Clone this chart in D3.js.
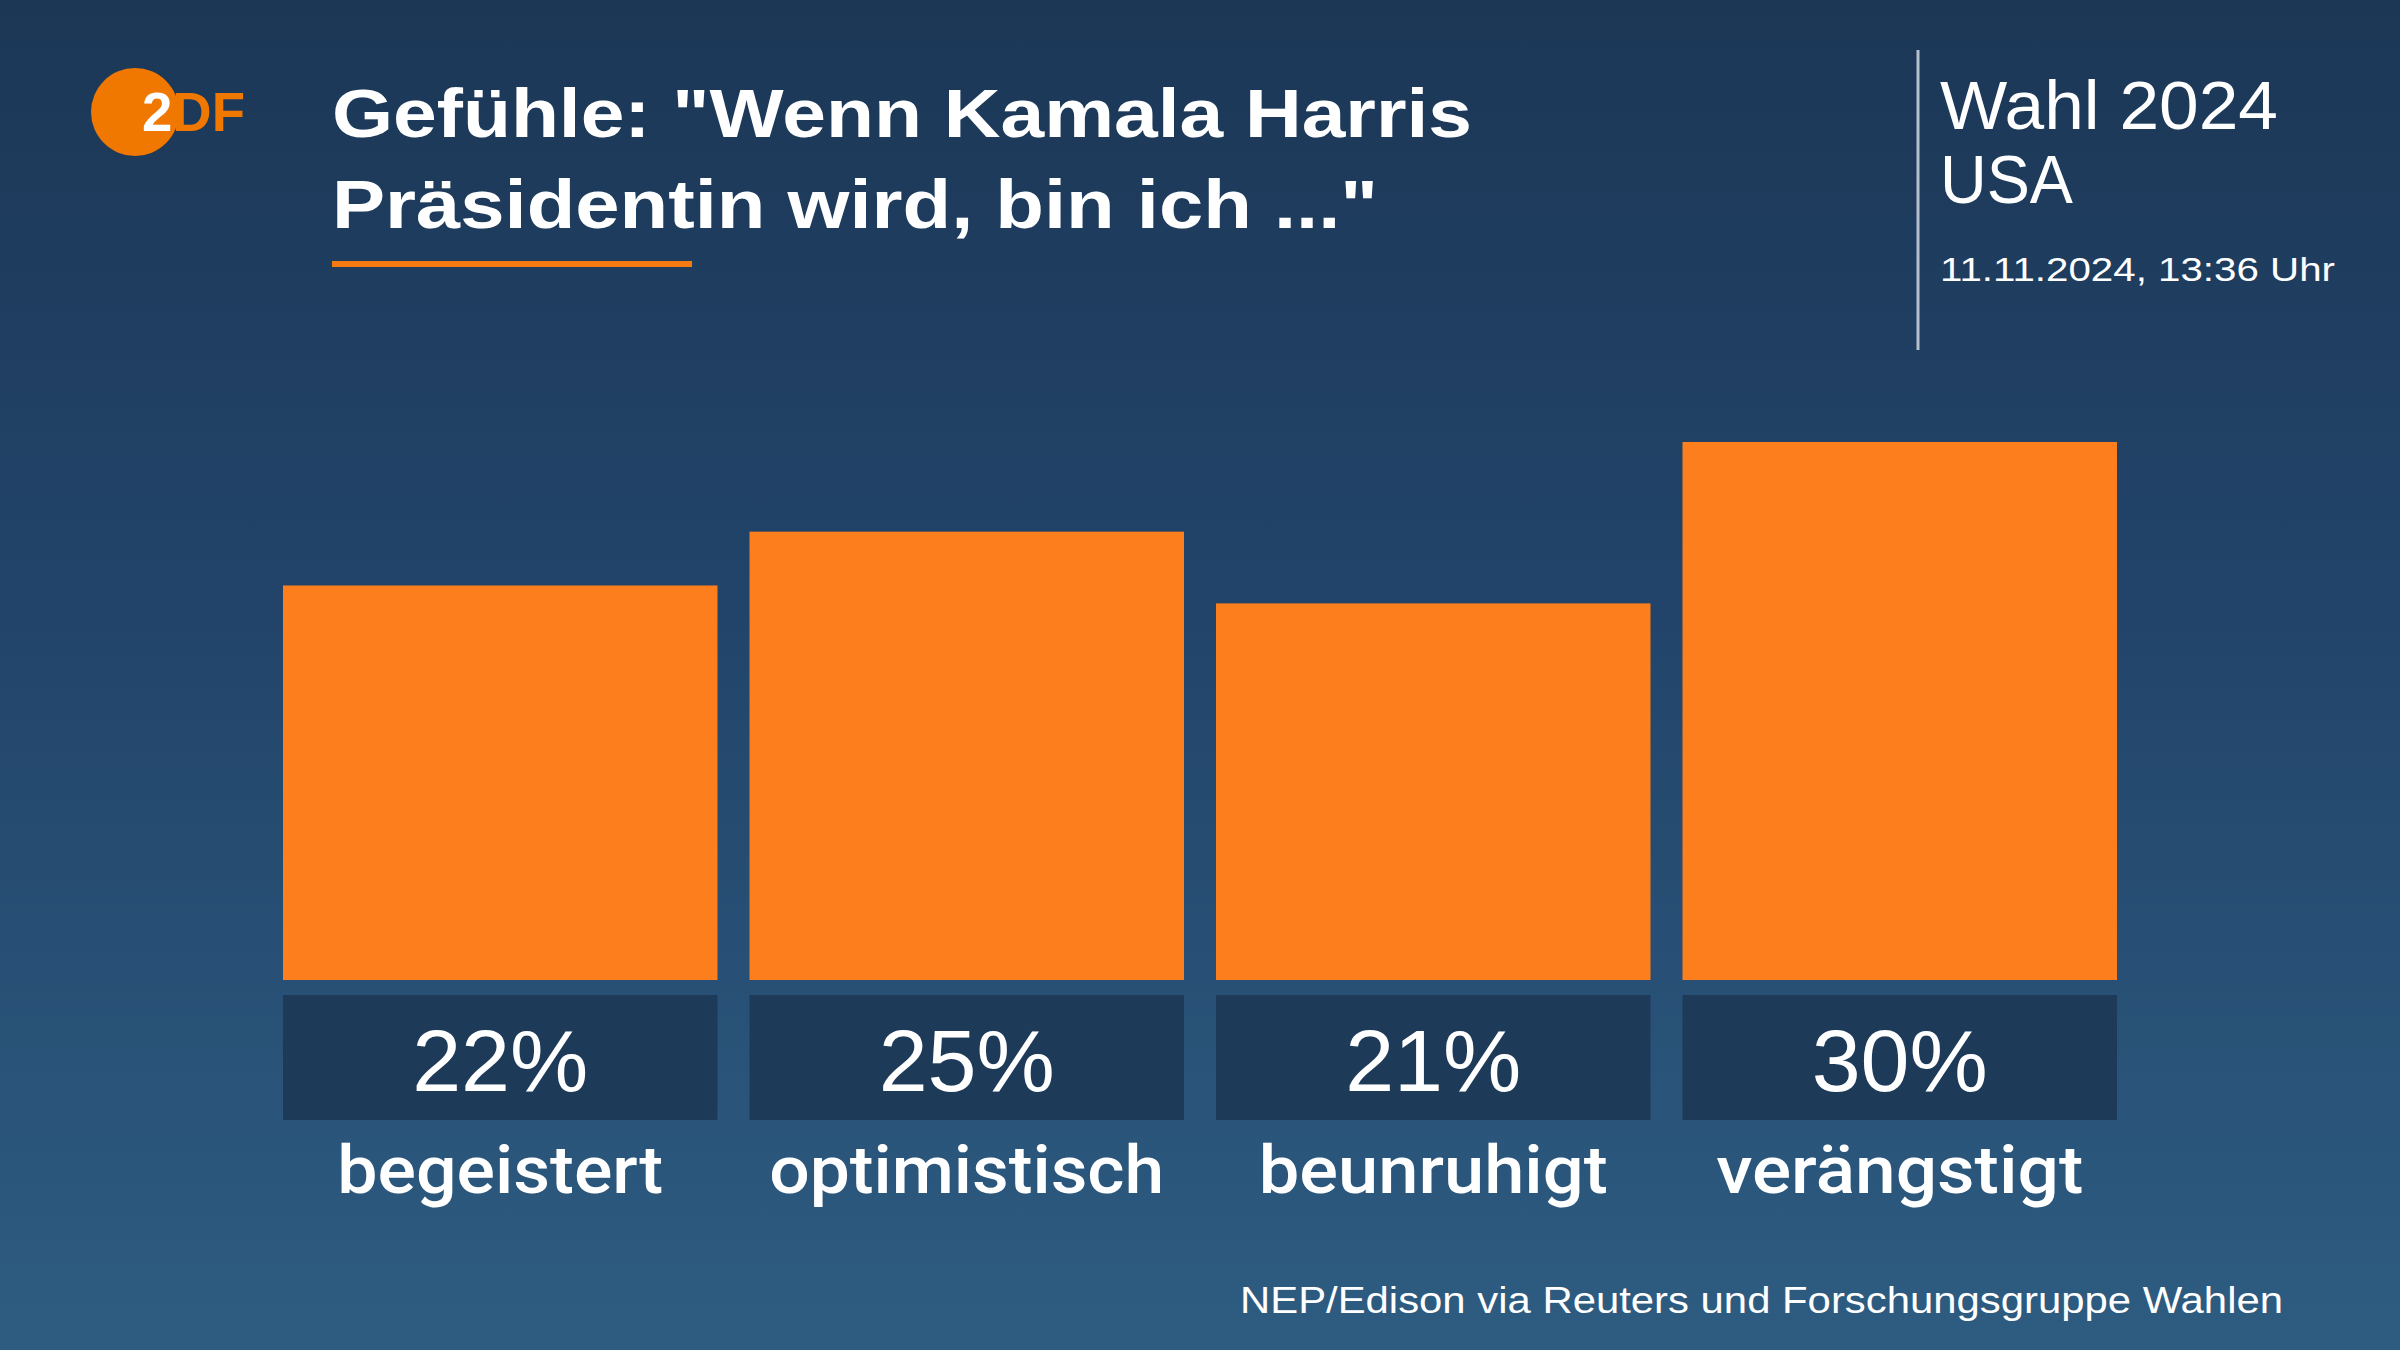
<!DOCTYPE html>
<html>
<head>
<meta charset="utf-8">
<script src="https://cdn.jsdelivr.net/npm/d3@7"></script>
<style>
  html, body { margin: 0; padding: 0; background: #1d3857; }
  svg { display: block; }
</style>
</head>
<body>
<svg id="chart" width="2400" height="1350"></svg>
<script>
// ---- Data ----
const categories = ["begeistert", "optimistisch", "beunruhigt", "verängstigt"];
const values = [22, 25, 21, 30];
const valueLabels = ["22%", "25%", "21%", "30%"];
const titleLines = ["Gefühle: \"Wenn Kamala Harris", "Präsidentin wird, bin ich ...\""];
const sideLines = ["Wahl 2024", "USA"];
const dateText = "11.11.2024, 13:36 Uhr";
const sourceText = "NEP/Edison via Reuters und Forschungsgruppe Wahlen";

const titleWidths = [1140, 1046];
const sideWidths = [338, 133];
const categoryWidths = [326, 395, 349, 367];

const W = 2400, H = 1350;
const svg = d3.select("#chart");

// Background gradient
const defs = svg.append("defs");
const grad = defs.append("linearGradient").attr("id", "bg").attr("x1", 0).attr("y1", 0).attr("x2", 0).attr("y2", 1);
grad.append("stop").attr("offset", "0%").attr("stop-color", "#1c3756");
grad.append("stop").attr("offset", "45%").attr("stop-color", "#22446a");
grad.append("stop").attr("offset", "100%").attr("stop-color", "#2e5c81");
svg.append("rect").attr("width", W).attr("height", H).attr("fill", "url(#bg)");

// Logo
const logo = svg.append("g");
logo.append("circle").attr("cx", 135).attr("cy", 112).attr("r", 44).attr("fill", "#f07800");
const logoText = logo.append("text").attr("x", 142).attr("y", 131)
  .attr("font-family", "Liberation Sans, Arial, sans-serif").attr("font-weight", "bold")
  .attr("font-size", 56).attr("textLength", 103).attr("lengthAdjust", "spacingAndGlyphs");
logoText.append("tspan").attr("fill", "#ffffff").text("2");
logoText.append("tspan").attr("fill", "#f07800").text("DF");

// Title
svg.append("g").selectAll("text").data(titleLines).join("text")
  .attr("x", 332).attr("y", (d, i) => 137 + i * 91)
  .attr("fill", "#ffffff")
  .attr("font-family", "Liberation Sans, Arial, sans-serif").attr("font-weight", "bold")
  .attr("font-size", 68)
  .attr("textLength", (d, i) => titleWidths[i]).attr("lengthAdjust", "spacingAndGlyphs")
  .text(d => d);
svg.append("rect").attr("x", 332).attr("y", 261).attr("width", 360).attr("height", 6).attr("fill", "#f57a10");

// Side block
svg.append("line").attr("x1", 1918).attr("x2", 1918).attr("y1", 50).attr("y2", 350)
  .attr("stroke", "#b4c0cd").attr("stroke-width", 3);
svg.append("g").selectAll("text").data(sideLines).join("text")
  .attr("x", 1940).attr("y", (d, i) => 129 + i * 74)
  .attr("fill", "#ffffff")
  .attr("font-family", "Liberation Sans, Arial, sans-serif")
  .attr("font-size", 68)
  .attr("textLength", (d, i) => sideWidths[i]).attr("lengthAdjust", "spacingAndGlyphs")
  .text(d => d);
svg.append("text").attr("x", 1940).attr("y", 281)
  .attr("fill", "#ffffff")
  .attr("font-family", "Liberation Sans, Arial, sans-serif")
  .attr("font-size", 34)
  .attr("textLength", 395).attr("lengthAdjust", "spacingAndGlyphs")
  .text(dateText);

// Scales
const x = d3.scaleBand().domain(categories).range([283, 2117]).paddingInner(0.0686).paddingOuter(0);
const y = d3.scaleLinear().domain([0, 30]).range([980, 442]);

// Bars
svg.append("g").selectAll("rect").data(values).join("rect")
  .attr("x", (d, i) => x(categories[i]))
  .attr("y", d => y(d))
  .attr("width", x.bandwidth())
  .attr("height", d => y(0) - y(d))
  .attr("fill", "#fc7e1c");

// Value boxes
svg.append("g").selectAll("rect").data(values).join("rect")
  .attr("x", (d, i) => x(categories[i]))
  .attr("y", y(0) + 15)
  .attr("width", x.bandwidth())
  .attr("height", 125)
  .attr("fill", "#1e3a59");

svg.append("g").selectAll("text").data(valueLabels).join("text")
  .attr("x", (d, i) => x(categories[i]) + x.bandwidth() / 2)
  .attr("y", 1091)
  .attr("text-anchor", "middle")
  .attr("fill", "#ffffff")
  .attr("font-family", "Liberation Sans, Arial, sans-serif")
  .attr("font-size", 88)
  .text(d => d);

// Category labels
svg.append("g").selectAll("text").data(categories).join("text")
  .attr("x", d => x(d) + x.bandwidth() / 2)
  .attr("y", 1193)
  .attr("text-anchor", "middle")
  .attr("fill", "#ffffff")
  .attr("font-family", "Roboto, Liberation Sans, sans-serif")
  .attr("font-weight", 500)
  .attr("font-size", 66)
  .attr("textLength", (d, i) => categoryWidths[i]).attr("lengthAdjust", "spacingAndGlyphs")
  .text(d => d);

// Source
svg.append("text").attr("x", 2283).attr("y", 1313)
  .attr("text-anchor", "end")
  .attr("fill", "#ffffff")
  .attr("font-family", "Liberation Sans, Arial, sans-serif")
  .attr("font-size", 36)
  .attr("textLength", 1043).attr("lengthAdjust", "spacingAndGlyphs")
  .text(sourceText);
</script>
</body>
</html>
